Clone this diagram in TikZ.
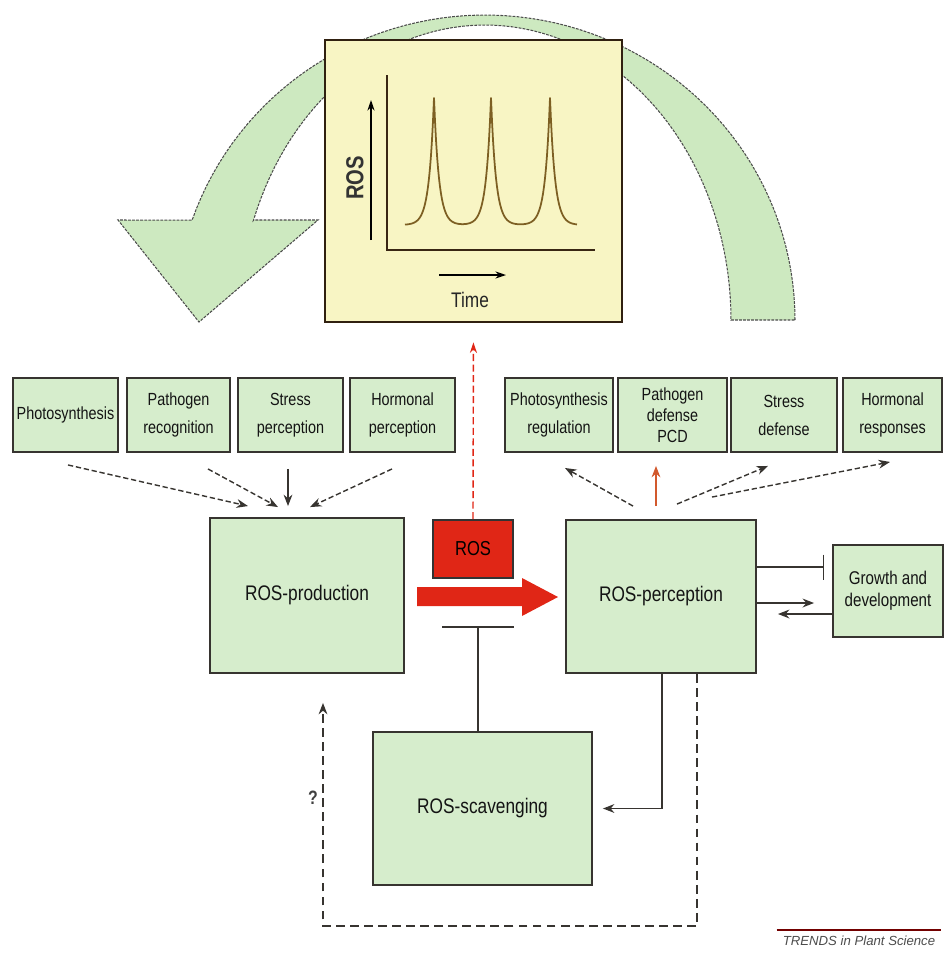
\documentclass[tikz,border=0pt]{standalone}
\usepackage{fontspec}
\setmainfont{Liberation Sans}
\newfontfamily\narrowfont[FakeStretch=0.82]{Liberation Sans}
\usetikzlibrary{calc,arrows.meta,positioning}
\definecolor{boxgreen}{RGB}{214,237,204}
\definecolor{arcgreen}{RGB}{205,233,192}
\definecolor{plotyellow}{RGB}{248,245,196}
\definecolor{rosred}{RGB}{224,38,22}
\definecolor{linegray}{RGB}{55,52,48}
\definecolor{curvebrown}{RGB}{125,95,35}
\tikzset{
  greenbox/.style={draw=linegray, fill=boxgreen, line width=1.1pt, align=center,
    inner sep=1pt, text=black!92},
  smallbox/.style={greenbox, minimum width=2.1cm, minimum height=1.48cm,
    font=\narrowfont\fontsize{10}{16}\selectfont},
  bigbox/.style={greenbox, font=\narrowfont\fontsize{12}{14}\selectfont},
  rosbox/.style={draw=black!80, fill=rosred, line width=1pt, minimum width=1.6cm,
    minimum height=1.16cm, font=\narrowfont\fontsize{11.5}{13}\selectfont},
  plotbox/.style={draw=black!75!brown, fill=plotyellow, line width=1.2pt,
    minimum width=5.94cm, minimum height=5.64cm},
  arr/.style={draw=linegray, line width=0.8pt, -{Stealth[length=6.5pt,width=5pt]}},
  dasharr/.style={arr, dash pattern=on 3pt off 1.6pt},
  inh/.style={draw=linegray, line width=0.8pt},
  arcstyle/.style={fill=arcgreen, draw=black!70, line width=0.6pt,
    dash pattern=on 1.6pt off 0.7pt}
}
\begin{document}
\begin{tikzpicture}[x=0.02cm,y=-0.02cm]
\useasboundingbox (0,0) rectangle (945,954);
% big cycling arrow behind the graph
\filldraw[arcstyle] plot[domain=0:160.9,samples=70] ({485+310*cos(\x)},{320-305*sin(\x)})
  -- (118,220) -- (199,322) -- (318,220) -- (254,220)
  -- plot[domain=160.3:0,samples=70] ({485+246*cos(\x)},{320-295*sin(\x)}) -- cycle;
\node[plotbox] (plot) at (473.5,181) {};
\draw[line width=1.2pt, draw=black!70!brown] (387,75) -- (387,250) -- (595,250);
\draw[line width=0.8pt, -{Stealth[length=6pt,width=4pt]}] (371,240) -- (371,100);
\node[rotate=90, font=\narrowfont\bfseries\fontsize{14}{14}\selectfont, text=black!80] (roslab) at (355,178) {ROS};
\draw[line width=0.8pt, -{Stealth[length=6pt,width=4pt]}] (439,275) -- (506,275);
\node[font=\narrowfont\fontsize{12}{12}\selectfont, text=black!85] (timelab) at (470,300) {Time};
\draw[curvebrown, line width=1pt, line join=round]
  plot[domain=405:577, samples=173] (\x,{225-127*(exp(-abs(\x-434)/5)+exp(-abs(\x-491)/5)+exp(-abs(\x-550)/5))});

\node[smallbox] (photo) at (65.5,415) {Photosynthesis};
\node[smallbox, minimum width=2.06cm] (pathrec) at (178.5,415) {Pathogen\\recognition};
\node[smallbox] (stressper) at (290.5,415) {Stress\\perception};
\node[smallbox] (hormper) at (402.5,415) {Hormonal\\perception};
\node[smallbox, minimum width=2.16cm] (photoreg) at (559,415) {Photosynthesis\\regulation};
\node[smallbox, minimum width=2.18cm, font=\narrowfont\fontsize{10}{12}\selectfont] (pcd) at (672.5,415) {Pathogen\\defense\\PCD};
\node[smallbox, minimum width=2.12cm] (stressdef) at (784,415) {Stress\\defense};
\node[smallbox, minimum width=1.98cm] (hormresp) at (892.5,415) {Hormonal\\responses};

\node[bigbox, minimum width=3.88cm, minimum height=3.1cm] (prod) at (307,595.5) {ROS-production};
\node[bigbox, minimum width=3.8cm, minimum height=3.06cm] (perc) at (661,596.5) {ROS-perception};
\node[bigbox, minimum width=4.38cm, minimum height=3.06cm] (scav) at (482.5,808.5) {ROS-scavenging};
\node[greenbox, minimum width=2.2cm, minimum height=1.84cm,
  font=\narrowfont\fontsize{10.5}{12.5}\selectfont] (growth) at (888,591) {Growth and\\development};
\node[rosbox] (ros) at (473,549) {ROS};

% inputs into ROS-production
\draw[dasharr] ($(photo.south)+(2.5,12)$) -- ($(prod.north)+(-59,-11)$);
\draw[dasharr] ($(pathrec.south)+(29.5,16)$) -- ($(prod.north)+(-29,-10)$);
\draw[arr] ($(stressper.south)+(-2.5,16)$) -- ($(prod.north)+(-19,-11)$);
\draw[dasharr] ($(hormper.south)+(-10.5,16)$) -- ($(prod.north)+(3,-10)$);
% outputs of ROS-perception
\draw[dasharr] ($(perc.north)+(-28,-13)$) -- ($(photoreg.south)+(6,15)$);
\draw[arr, draw=brown!70!red, line width=0.6pt] ($(perc.north)+(-5,-13)$) -- ($(pcd.south)+(-16.5,13)$);
\draw[dasharr] ($(perc.north)+(16,-15)$) -- ($(stressdef.south)+(-16,13)$);
\draw[dasharr] ($(perc.north)+(51,-22)$) -- ($(hormresp.south)+(-2.5,9)$);

\fill[rosred] (417,587) -- (522,587) -- (522,578) -- (558,597) -- (522,616) -- (522,606) -- (417,606) -- cycle;
\draw[rosred, line width=0.8pt, dash pattern=on 4pt off 2pt, -{Stealth[length=6pt,width=4pt]},
  shorten >=11pt] (ros.north) -- (plot.south);

\draw[inh, -{Bar[width=1.44cm, line width=1.2pt]}] ($(scav.north)+(-4.5,0)$) -- ($(scav.north)+(-4.5,-105)$);
\draw[inh, -{Bar[width=0.5cm]}] ($(perc.east)+(0,-29.5)$) -- ($(growth.west)+(-8,-24)$);
\draw[arr, line width=1pt] ($(perc.east)+(0,6.5)$) -- ($(growth.west)+(-18,12)$);
\draw[arr, line width=1pt] ($(growth.west)+(0,23)$) -- ($(perc.east)+(21,17.5)$);

\draw[arr] ($(perc.south)+(1,0)$) |- ($(scav.east)+(10,0)$);
\draw[dasharr, dash pattern=on 5pt off 3pt] ($(perc.south)+(36,0)$) -- ++(0,252) -| ($(prod.south)+(16,29)$);
\node[font=\narrowfont\bfseries\fontsize{11}{11}\selectfont, text=black!75] (qmark) at (313,798) {?};

\node[font=\itshape\fontsize{7.5}{8}\selectfont, text=black!70] (trends) at (859,941) {TRENDS in Plant Science};
\draw[red!45!black, line width=0.7pt] (trends.north west) -- (trends.north east);
\end{tikzpicture}
\end{document}
